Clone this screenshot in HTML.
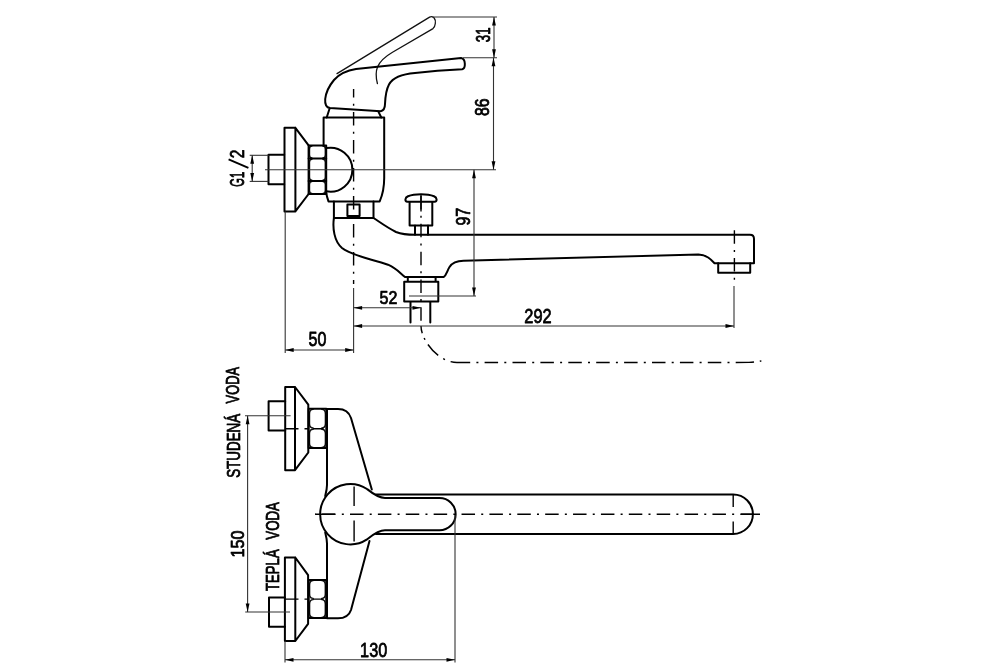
<!DOCTYPE html>
<html><head><meta charset="utf-8"><style>
html,body{margin:0;padding:0;background:#fff;}
body{width:1000px;height:667px;overflow:hidden;}
svg{display:block;will-change:transform;}
.th{fill:none;stroke:#000;stroke-width:2.0;stroke-linejoin:round;stroke-linecap:round;}
.tm{fill:none;stroke:#111;stroke-width:1.3;stroke-linejoin:round;stroke-linecap:round;}
.tn{fill:none;stroke:#333;stroke-width:1.1;}
.ar{fill:#000;stroke:none;}
.tx{fill:#000;stroke:#000;stroke-width:0.7;stroke-linejoin:round;vector-effect:non-scaling-stroke;font-family:"Liberation Sans",sans-serif;font-size:100px;font-kerning:none;letter-spacing:0;white-space:pre;}
.txl{stroke:#000;stroke-width:1.9;stroke-linecap:butt;}
.cl{fill:none;stroke:#000;stroke-width:1.4;stroke-dasharray:13.5 6 2.5 6;}
</style></head><body>
<svg width="1000" height="667" viewBox="0 0 1000 667">
<rect width="1000" height="667" fill="#fff"/>
<path class="tm" d="M337,73.6 L429.6,17.1 C433.5,15.5 436,19 435.3,23.5 C435,26 434.5,27.5 433,28.6 L392.5,52.2 C386,56 380,61 377.5,67 C375.5,72 376,78 377.4,83.5"/>
<path class="th" d="M330,108 L380.7,111.3 C383.8,110.5 385,108 385,104 C385.3,97 386,90 389,84.5 C393,77.5 402,74.2 415,73.1 L437.5,70.8 L462.2,69.3 C465.8,68.5 466,59 461.1,58.1 L356,69.1 C347,70.5 339,74.5 334,80 C329,86 326,92 325.2,99 C324.8,104 326,107.5 330,108 Z"/>
<path class="th" d="M329.6,108.5 L326.7,117.5 M378.5,111.9 L381.3,117.5"/>
<path class="th" d="M323.6,145.4 L323.6,117.6 L384.2,117.6 L384.2,178 C384.2,188 382.5,195 379.7,201.4 L328.5,201.4 C327.5,198.5 326.5,195.5 326.2,192.7"/>
<path class="th" d="M326.2,148.1 A22,22 0 1 1 326.2,191.3"/>
<path class="tm" style="stroke-width:1.4" d="M311.90,146.00 Q309.50,146.00 309.50,149.00 L309.50,155.00 Q309.50,158.00 311.90,158.00 M322.90,146.00 Q325.30,146.00 325.30,149.00 L325.30,155.00 Q325.30,158.00 322.90,158.00 M311.90,159.20 Q309.50,159.20 309.50,162.20 L309.50,177.30 Q309.50,180.30 311.90,180.30 M322.90,159.20 Q325.30,159.20 325.30,162.20 L325.30,177.30 Q325.30,180.30 322.90,180.30 M311.90,181.50 Q309.50,181.50 309.50,184.50 L309.50,190.40 Q309.50,193.40 311.90,193.40 M322.90,181.50 Q325.30,181.50 325.30,184.50 L325.30,190.40 Q325.30,193.40 322.90,193.40 "/>
<path class="th" d="M308.6,158.6 L326.2,158.6 M308.6,180.9 L326.2,180.9"/>
<path class="tm" style="stroke-width:1.4" d="M313.10,409.40 Q309.50,409.40 309.50,413.90 L309.50,423.50 Q309.50,428.00 313.10,428.00 M321.80,409.40 Q325.40,409.40 325.40,413.90 L325.40,423.50 Q325.40,428.00 321.80,428.00 M313.10,429.20 Q309.50,429.20 309.50,433.70 L309.50,443.00 Q309.50,447.50 313.10,447.50 M321.80,429.20 Q325.40,429.20 325.40,433.70 L325.40,443.00 Q325.40,447.50 321.80,447.50 "/>
<path class="tm" style="stroke-width:1.4" d="M313.20,580.60 Q309.60,580.60 309.60,585.10 L309.60,593.90 Q309.60,598.40 313.20,598.40 M321.70,580.60 Q325.30,580.60 325.30,585.10 L325.30,593.90 Q325.30,598.40 321.70,598.40 M313.20,599.60 Q309.60,599.60 309.60,604.10 L309.60,613.00 Q309.60,617.50 313.20,617.50 M321.70,599.60 Q325.30,599.60 325.30,604.10 L325.30,613.00 Q325.30,617.50 321.70,617.50 "/>
<path class="th" d="M308.6,145.4 L326.2,145.4 L326.2,194 L308.6,194 Z"/>
<path class="th" d="M284.5,127.8 L295.4,127.8 L295.4,211.4 L284.5,211.4 Z M295.4,127.8 L308.6,145.4 M295.4,211.4 L308.6,194"/>
<path class="th" d="M284.2,154.8 L268.5,154.8 L268.5,184.2 L284.2,184.2"/>
<path class="th" d="M333.9,201.4 L333.9,218 L373.5,218 L373.5,201.4 M347.4,204.4 L359.6,204.4 L359.6,216.1 L347.4,216.1 Z"/>
<path class="th" d="M373.5,218 C379,221.5 386,227 396,232 C402,234.3 408,234.8 415,234.8 L750,234.8 Q754,234.8 754,239 L754,263.3 L714.6,263.3 C711,259.5 707,255 698.4,254.6 L463.5,260.7 C457,260.8 452,263 449.5,267 C447,271 446.5,275 443.7,277 L405,277 C400,273 396,268 388,264.7 C372,259 352,256 342,248 C334,241 332.5,228 333.9,218"/>
<path class="th" d="M407.5,201.8 C404.5,201.5 404.8,197.5 408,196.2 C412,194.6 416,194.2 421,194.2 C426,194.2 430,194.6 434,196.2 C437.2,197.5 437.5,201.5 434.5,201.8 Z M409.6,201.8 L409.6,225.5 L432.3,225.5 L432.3,201.8 M415,225.2 L415,234.8 M428,225.2 L428,234.8"/>
<path class="th" d="M407.8,277 L407.8,281.8 M435.6,277 L435.6,281.8 M404.2,281.8 L438.3,281.8 L438.3,301.6 L404.2,301.6 Z M410.5,301.6 L410.5,322.6 M430.3,301.6 L430.3,322.6"/>
<path class="th" d="M718.2,263.3 L718.2,272.8 L750.2,272.8 L750.2,263.3"/>
<path class="cl" d="M353.6,89 L353.6,284" style="stroke-dasharray:13.5 6.25 2.0 6.25;stroke-dashoffset:4.95"/>
<line class="tn" x1="353.6" y1="288" x2="353.6" y2="353"/>
<path class="cl" d="M421,192 L421,326" style="stroke-dasharray:13.5 6.15 2.0 6.15;stroke-dashoffset:23.75"/>
<path class="cl" style="stroke-dasharray:none" d="M421,194.5 L421,211.5"/>
<path class="cl" d="M421,326 C421,340 438,362.5 457,362.5" style="stroke-dasharray:7.5 5 2 5.5 15 6 2 6 20"/>
<path class="cl" d="M457,362.5 L735,362.5" style="stroke-dasharray:13.5 6.20 2.0 6.20;stroke-dashoffset:0.30"/>
<path class="cl" style="stroke-dasharray:none" d="M735.7,362.5 L749,362.4 Q752,362.3 754,362 M759.8,361.3 L761.4,360.9"/>
<path class="cl" d="M734.4,229.9 L734.4,280" style="stroke-dasharray:13.5 6.15 2.0 6.15;stroke-dashoffset:27.45"/>
<line class="tn" x1="734" y1="286" x2="734" y2="328"/>
<line class="tn" x1="265" y1="169.7" x2="496" y2="169.7"/>
<line class="tn" x1="432" y1="17" x2="497" y2="17"/>
<line class="tn" x1="463" y1="57.7" x2="497" y2="57.7"/>
<line class="tn" x1="409" y1="296" x2="476" y2="296"/>
<line class="tn" x1="285.2" y1="211.4" x2="285.2" y2="353"/>
<line class="tn" x1="249.7" y1="155.3" x2="268.5" y2="155.3"/>
<line class="tn" x1="249.7" y1="181.4" x2="268.5" y2="181.4"/>
<line x1="494" y1="17" x2="494" y2="57.7" class="tn"/><path d="M494.00,17.00 L495.90,25.50 L492.10,25.50 Z" class="ar"/><path d="M494.00,57.70 L492.10,49.20 L495.90,49.20 Z" class="ar"/>
<line x1="493.5" y1="57.7" x2="493.5" y2="169.7" class="tn"/><path d="M493.50,57.70 L495.40,66.20 L491.60,66.20 Z" class="ar"/><path d="M493.50,169.70 L491.60,161.20 L495.40,161.20 Z" class="ar"/>
<line x1="474" y1="169.7" x2="474" y2="296" class="tn"/><path d="M474.00,169.70 L475.90,178.20 L472.10,178.20 Z" class="ar"/><path d="M474.00,296.00 L472.10,287.50 L475.90,287.50 Z" class="ar"/>
<line x1="353.6" y1="307.8" x2="421" y2="307.8" class="tn"/><path d="M353.60,307.80 L362.10,305.90 L362.10,309.70 Z" class="ar"/><path d="M421.00,307.80 L412.50,309.70 L412.50,305.90 Z" class="ar"/>
<line x1="353.6" y1="326" x2="734" y2="326" class="tn"/><path d="M353.60,326.00 L362.10,324.10 L362.10,327.90 Z" class="ar"/><path d="M734.00,326.00 L725.50,327.90 L725.50,324.10 Z" class="ar"/>
<line x1="285.2" y1="350" x2="353.7" y2="350" class="tn"/><path d="M285.20,350.00 L293.70,348.10 L293.70,351.90 Z" class="ar"/><path d="M353.70,350.00 L345.20,351.90 L345.20,348.10 Z" class="ar"/>
<line x1="252.2" y1="155.3" x2="252.2" y2="181.4" class="tn"/><path d="M252.20,155.30 L254.10,163.80 L250.30,163.80 Z" class="ar"/><path d="M252.20,181.40 L250.30,172.90 L254.10,172.90 Z" class="ar"/>
<path class="th" d="M285.2,401.3 L268.6,401.3 L268.6,430.4 L285.2,430.4"/>
<path class="th" d="M285.2,387 L295,387 L295,470.2 L285.2,470.2 Z M295,387 L308.3,404.6 L308.3,452.5 L295,470.2"/>
<path class="th" d="M308.6,408.8 L326.3,408.8 L326.3,448.1 L308.6,448.1 Z"/>
<path class="cl" style="stroke-dasharray:none" d="M285,428.7 L298.5,428.7 M304.5,428.7 L308,428.7 M313,428.7 L323.5,428.7"/>
<line class="tn" x1="245" y1="415.8" x2="290.6" y2="415.8"/>
<path class="th" d="M284.9,597.5 L269,597.5 L269,626.7 L284.9,626.7"/>
<path class="th" d="M284.9,557.5 L295.3,557.5 L295.3,641 L284.9,641 Z M295.3,557.5 L308.1,575.2 L308.1,623.8 L295.3,641"/>
<path class="th" d="M308.7,580 L326.2,580 L326.2,618.1 L308.7,618.1 Z"/>
<path class="cl" style="stroke-dasharray:none" d="M285,599.1 L298.5,599.1 M304.5,599.1 L308,599.1 M313,599.1 L323.5,599.1"/>
<line class="tn" x1="245.2" y1="612" x2="290" y2="612"/>
<path class="th" d="M325.2,496 C326.2,492 327,489 327,485 L327,409 L338,409 C345,409 349,412 351,418 L371.8,489.5"/>
<path class="th" d="M325.2,532.4 C326.2,536.4 327,539.4 327,543.4 L327,618.3 L338,618.3 C345,618.3 349,616 351,610 L369.5,541"/>
<path class="th" d="M376,494.5 L733.2,494.5 A19.7,19.7 0 0 1 733.2,533.9 L376,533.9"/>
<path class="th" fill="#fff" d="M385,498 L439.5,498 A16.15,16.15 0 0 1 439.5,530.3 L385,530.3 C378,530.3 372,535.5 367,539.4 A30.2,30.2 0 1 1 367,489 C372,493 378,498 385,498 Z"/>
<path class="cl" d="M315.2,514.2 L760,514.2" style="stroke-dasharray:13.5 6.19 2.0 6.19;stroke-dashoffset:20.95"/>
<path class="cl" style="stroke-dasharray:none" d="M315.2,514.2 L335,514.2 M740.9,514.2 L760,514.2 M354.1,486.6 L354.1,506 M354.1,520.4 L354.1,541.5 M733.2,494.6 L733.2,506.9 M733.2,521.5 L733.2,533.9"/>
<line class="tn" x1="285" y1="641" x2="285" y2="662.5"/>
<line class="tn" x1="455" y1="515" x2="455" y2="662.5"/>
<line x1="285" y1="659.8" x2="455" y2="659.8" class="tn"/><path d="M285.00,659.80 L293.50,657.90 L293.50,661.70 Z" class="ar"/><path d="M455.00,659.80 L446.50,661.70 L446.50,657.90 Z" class="ar"/>
<line x1="247.6" y1="415.8" x2="247.6" y2="612" class="tn"/><path d="M247.60,415.80 L249.50,424.30 L245.70,424.30 Z" class="ar"/><path d="M247.60,612.00 L245.70,603.50 L249.50,603.50 Z" class="ar"/>
<text class="tx" transform="matrix(0,-0.13263,0.19621,0,490.350,42.155)">31</text>
<text class="tx" transform="matrix(0,-0.15806,0.19907,0,489.450,115.937)">86</text>
<text class="tx" transform="matrix(0,-0.16155,0.19907,0,470.350,225.607)">97</text>
<text class="tx" transform="matrix(0,-0.11175,0.19334,0,244.250,186.712)">G1</text>
<text class="tx" transform="matrix(0,-0.15585,0.19334,0,244.250,158.234)">2</text>
<line class="txl" x1="228.6" y1="159.3" x2="248.4" y2="167.8"/>
<text class="tx" transform="matrix(0.16047,0,0,0.18332,379.607,303.950)">52</text>
<text class="tx" transform="matrix(0.16392,0,0,0.20194,524.326,322.650)">292</text>
<text class="tx" transform="matrix(0.16067,0,0,0.19334,308.507,346.350)">50</text>
<text class="tx" transform="matrix(0.16289,0,0,0.20480,360.109,656.650)">130</text>
<text class="tx" transform="matrix(0,-0.16160,0.18332,0,243.850,557.381)">150</text>
<text class="tx" transform="matrix(0,-0.12838,0.18332,0,239.450,403.406)">VODA</text>
<text class="tx" transform="matrix(0,-0.13422,0.18332,0,239.850,477.860)">STUDENÁ</text>
<text class="tx" transform="matrix(0,-0.13297,0.18332,0,278.650,539.708)">VODA</text>
<text class="tx" transform="matrix(0,-0.13138,0.17588,0,278.650,590.945)">TEPLÁ</text>
</svg>
</body></html>
